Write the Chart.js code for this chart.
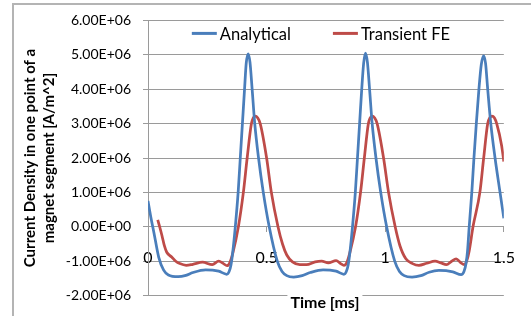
<!DOCTYPE html>
<html><head><meta charset="utf-8">
<script src="https://cdn.jsdelivr.net/npm/chart.js@4/dist/chart.umd.min.js"></script>
<style>html,body{margin:0;padding:0;background:#fff;overflow:hidden}</style>
</head><body>
<canvas id="c" width="531" height="316"></canvas>
<script>
// ---- data (current density in units of 1E+06 A/m^2, time in ms) ----
const SCALE = 1e6;
const seriesNames = ['Analytical', 'Transient FE'];
const analyticalTime = [0, 0.012, 0.025, 0.045, 0.066, 0.086, 0.127, 0.160, 0.189, 0.243, 0.298, 0.332, 0.342, 0.350, 0.357, 0.368, 0.380, 0.389, 0.398, 0.407, 0.414, 0.422, 0.430, 0.439, 0.450, 0.466, 0.486, 0.511, 0.545, 0.565, 0.585, 0.614, 0.650, 0.684, 0.738, 0.793, 0.826, 0.836, 0.844, 0.851, 0.862, 0.874, 0.883, 0.892, 0.901, 0.909, 0.917, 0.925, 0.934, 0.945, 0.961, 0.981, 1.006, 1.040, 1.060, 1.080, 1.113, 1.150, 1.185, 1.226, 1.285, 1.320, 1.332, 1.341, 1.347, 1.354, 1.365, 1.374, 1.384, 1.395, 1.405, 1.415, 1.423, 1.432, 1.445, 1.463, 1.484, 1.500];
const analyticalJ = [0.75, 0.28, -0.17, -0.88, -1.26, -1.40, -1.45, -1.41, -1.33, -1.25, -1.29, -1.38, -1.30, -1.10, -0.75, 0, 1.0, 2.0, 3.0, 4.0, 4.75, 5.03, 4.78, 4.0, 3.0, 2.0, 1.0, 0, -1.0, -1.30, -1.42, -1.46, -1.42, -1.33, -1.25, -1.29, -1.38, -1.30, -1.10, -0.75, 0, 1.0, 2.0, 3.0, 4.0, 4.75, 5.05, 4.78, 4.0, 3.0, 2.0, 1.0, 0, -1.0, -1.30, -1.42, -1.46, -1.42, -1.32, -1.27, -1.31, -1.39, -1.30, -1.05, -0.70, 0, 1.0, 2.0, 3.0, 4.0, 4.72, 4.97, 4.75, 4.0, 3.0, 2.0, 1.0, 0.25];
const transientTime = [0.041, 0.050, 0.059, 0.069, 0.079, 0.100, 0.117, 0.134, 0.161, 0.189, 0.230, 0.271, 0.298, 0.318, 0.333, 0.345, 0.358, 0.381, 0.402, 0.418, 0.436, 0.444, 0.452, 0.462, 0.473, 0.500, 0.520, 0.548, 0.567, 0.585, 0.609, 0.640, 0.668, 0.705, 0.732, 0.760, 0.793, 0.812, 0.826, 0.838, 0.851, 0.875, 0.896, 0.912, 0.929, 0.937, 0.945, 0.955, 0.966, 0.993, 1.014, 1.042, 1.062, 1.087, 1.115, 1.142, 1.175, 1.210, 1.235, 1.258, 1.280, 1.299, 1.318, 1.333, 1.344, 1.354, 1.370, 1.399, 1.415, 1.432, 1.441, 1.450, 1.460, 1.470, 1.491, 1.500];
const transientJ = [0.20, -0.02, -0.26, -0.55, -0.74, -0.88, -1.00, -1.07, -1.12, -1.09, -1.03, -1.10, -1.00, -1.07, -1.13, -1.04, -0.75, 0, 1.0, 2.0, 3.0, 3.17, 3.22, 3.17, 3.0, 2.0, 1.0, 0, -0.50, -0.82, -1.02, -1.10, -1.10, -1.02, -1.00, -1.05, -0.98, -1.07, -1.12, -1.04, -0.75, 0, 1.0, 2.0, 3.0, 3.17, 3.22, 3.17, 3.0, 2.0, 1.0, 0, -0.55, -0.93, -1.07, -1.12, -1.06, -1.00, -1.05, -1.10, -1.00, -0.93, -1.04, -1.10, -0.98, -0.70, 0, 1.0, 2.0, 3.0, 3.17, 3.22, 3.17, 3.0, 2.35, 1.90];
const xTicks = [0, 0.5, 1, 1.5];
const xTickLabels = ['0', '0.5', '1', '1.5'];
const yTicks = [-2, -1, 0, 1, 2, 3, 4, 5, 6];
const yTickLabels = ['-2.00E+06', '-1.00E+06', '0.00E+00', '1.00E+06', '2.00E+06', '3.00E+06', '4.00E+06', '5.00E+06', '6.00E+06'];
const xTitle = 'Time [ms]';
const yTitle = ['Current Density in one point of a', 'magnet segment [A/m^2]'];

// ---- styling ----
const FONT = 'Lato, "Open Sans", sans-serif';
const GRID = '#9a9a9a';
const COLORS = ['#4a7ebb', '#be4b48'];

function toPoints(ts, js) { return ts.map((t, i) => ({x: t, y: js[i] * SCALE})); }

const framePlugin = {
  id: 'frame',
  beforeDraw(chart) {
    const c = chart.ctx;
    c.save();
    c.fillStyle = '#fff';
    c.fillRect(0, 0, chart.width, chart.height);
    c.strokeStyle = '#b4b4b4';
    c.lineWidth = 2;
    c.beginPath();
    c.moveTo(13, chart.height);
    c.lineTo(13, 4);
    c.lineTo(chart.width, 4);
    c.stroke();
    c.restore();
  }
};

const legendPlugin = {
  id: 'insideLegend',
  afterDraw(chart) {
    const c = chart.ctx, a = chart.chartArea;
    c.save();
    c.font = '16.5px ' + FONT;
    c.textBaseline = 'middle';
    const lineLen = 25, gap = 3, itemGap = 42;
    const widths = seriesNames.map(n => c.measureText(n).width);
    const total = widths.reduce((s, w) => s + lineLen + gap + w, 0) + itemGap * (seriesNames.length - 1);
    let x = (a.left + a.right) / 2 - 5 - total / 2;
    const y = a.top + 13;
    seriesNames.forEach((n, i) => {
      c.strokeStyle = COLORS[i];
      c.lineWidth = 3;
      c.beginPath();
      c.moveTo(x, y);
      c.lineTo(x + lineLen, y);
      c.stroke();
      c.fillStyle = '#000';
      c.fillText(n, x + lineLen + gap, y + 1);
      x += lineLen + gap + widths[i] + itemGap;
    });
    c.restore();
  }
};

const xTitlePlugin = {
  id: 'xTitle',
  afterDraw(chart) {
    const c = chart.ctx, a = chart.chartArea;
    c.save();
    c.font = 'bold 16px ' + FONT;
    c.textAlign = 'center';
    c.textBaseline = 'middle';
    const cx = (a.left + a.right) / 2 - 1;
    const w = c.measureText(xTitle).width;
    c.fillStyle = '#fff';
    c.fillRect(cx - w / 2 - 3, a.bottom - 2, w + 6, 18);
    c.fillStyle = '#000';
    c.fillText(xTitle, cx, a.bottom + 7);
    c.restore();
  }
};

new Chart(document.getElementById('c'), {
  type: 'line',
  data: {
    datasets: [
      {label: seriesNames[0], data: toPoints(analyticalTime, analyticalJ), borderColor: COLORS[0], backgroundColor: COLORS[0], borderWidth: 2.75, pointRadius: 0, cubicInterpolationMode: 'monotone', fill: false},
      {label: seriesNames[1], data: toPoints(transientTime, transientJ), borderColor: COLORS[1], backgroundColor: COLORS[1], borderWidth: 2.75, pointRadius: 0, cubicInterpolationMode: 'monotone', fill: false}
    ]
  },
  options: {
    responsive: false,
    animation: false,
    devicePixelRatio: 1,
    layout: {padding: {left: 0, right: 17, top: 19, bottom: 15}},
    scales: {
      x: {
        type: 'linear', min: 0, max: 1.5, position: {y: 0},
        afterBuildTicks: s => { s.ticks = xTicks.map(v => ({value: v})); },
        ticks: {callback: (v, i) => xTickLabels[i], font: {family: FONT, size: 16}, color: '#000', padding: 16, maxRotation: 0, autoSkip: false},
        grid: {drawOnChartArea: false, drawTicks: true, tickLength: 5, color: GRID},
        border: {display: true, color: GRID, width: 1}
      },
      y: {
        type: 'linear', min: -2 * SCALE, max: 6 * SCALE,
        afterBuildTicks: s => { s.ticks = yTicks.map(v => ({value: v * SCALE})); },
        afterFit: s => { s.width = 148; },
        ticks: {callback: (v, i) => yTickLabels[i], font: {family: FONT, size: 14}, color: '#000', padding: 12},
        grid: {color: GRID, tickLength: 5},
        border: {display: true, color: GRID, width: 1},
        title: {display: true, text: yTitle, color: '#000', font: {family: FONT, size: 15, weight: 'bold', lineHeight: 1.3}, padding: {top: 20, bottom: 0}}
      }
    },
    plugins: {legend: {display: false}, tooltip: {enabled: false}}
  },
  plugins: [framePlugin, legendPlugin, xTitlePlugin]
});
</script>
</body></html>
